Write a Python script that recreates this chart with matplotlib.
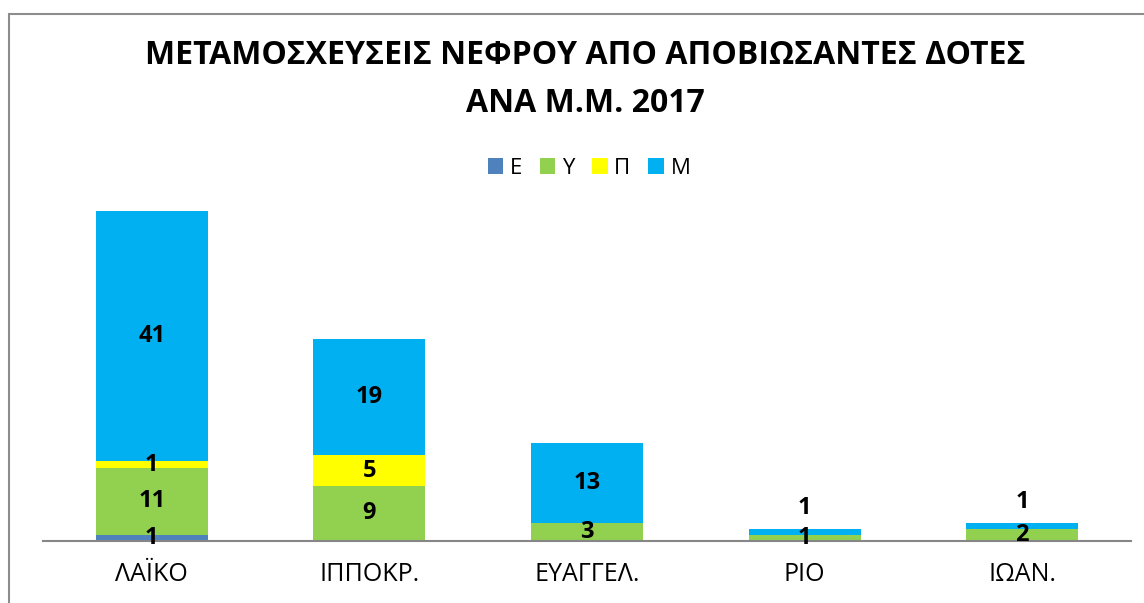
import numpy as np
import matplotlib
matplotlib.use("Agg")
import matplotlib.pyplot as plt
from matplotlib.patches import Rectangle

plt.rcParams['font.family'] = ['Open Sans', 'DejaVu Sans']

# δεδομενα
categories = ["ΛΑΪΚΟ", "ΙΠΠΟΚΡ.", "ΕΥΑΓΓΕΛ.", "ΡΙΟ", "ΙΩΑΝ."]
series_names = ["Ε", "Υ", "Π", "Μ"]
E = [1, 0, 0, 0, 0]
Y = [11, 9, 3, 1, 2]
P = [1, 5, 0, 0, 0]
M = [41, 19, 13, 1, 1]
colors = ["#4F81BD", "#92D050", "#FFFF00", "#00B0F0"]

W, H = 1144, 603
fig = plt.figure(figsize=(W / 100, H / 100), dpi=100)
ax = fig.add_axes([43 / W, 1 - 541 / H, (1131 - 43) / W, (541 - 174) / H])

x = np.arange(len(categories))
bottom = np.zeros(len(categories))
handles = []
for name, vals, col in zip(series_names, [E, Y, P, M], colors):
    vals = np.array(vals, dtype=float)
    b = ax.bar(x, vals, 0.515, bottom=bottom, color=col, label=name)
    handles.append(b)
    for i, v in enumerate(vals):
        if v == 0:
            continue
        yc = bottom[i] + v / 2
        dy = 0
        # ετικετες πανω απο τις μικρες μπαρες
        if name == "Μ" and bottom[i] + v < 5:
            dy = 17
        ax.annotate(f"{int(v)}", (x[i], yc), xytext=(0, dy), textcoords="offset points",
                    ha="center", va="center", fontsize=17, fontweight="bold", color="black")
    bottom += vals

ax.set_xlim(-0.5, len(categories) - 0.5)
ax.set_ylim(0, 60)
ax.set_xticks(x)
ax.set_xticklabels(categories, fontsize=18)
ax.tick_params(axis="x", length=0, pad=15)
ax.set_yticks([])
for s in ["top", "right", "left"]:
    ax.spines[s].set_visible(False)
ax.spines["bottom"].set_color("#868686")
ax.spines["bottom"].set_linewidth(1.5)
ax.spines["bottom"].set_bounds(-0.5, len(categories) - 0.5)

fig.text(585 / W, 1 - 56 / H, "ΜΕΤΑΜΟΣΧΕΥΣΕΙΣ ΝΕΦΡΟΥ ΑΠΟ ΑΠΟΒΙΩΣΑΝΤΕΣ ΔΟΤΕΣ",
         ha="center", va="center", fontsize=23, fontweight="bold")
fig.text(585 / W, 1 - 104 / H, "ΑΝΑ Μ.Μ. 2017",
         ha="center", va="center", fontsize=23, fontweight="bold")

fig.legend(handles=handles, labels=series_names, loc="center",
           bbox_to_anchor=(589 / W, 1 - 168 / H), ncol=4, frameon=False,
           fontsize=16, handlelength=0.7, handleheight=0.7, handletextpad=0.3,
           columnspacing=0.8)

fig.patches.append(Rectangle((9 / W, -0.05), 1.1, 1 - 14 / H + 0.05, transform=fig.transFigure,
                             fill=False, edgecolor="#8C8C8C", linewidth=1.5, clip_on=False))

fig.savefig("out.png", dpi=100)
